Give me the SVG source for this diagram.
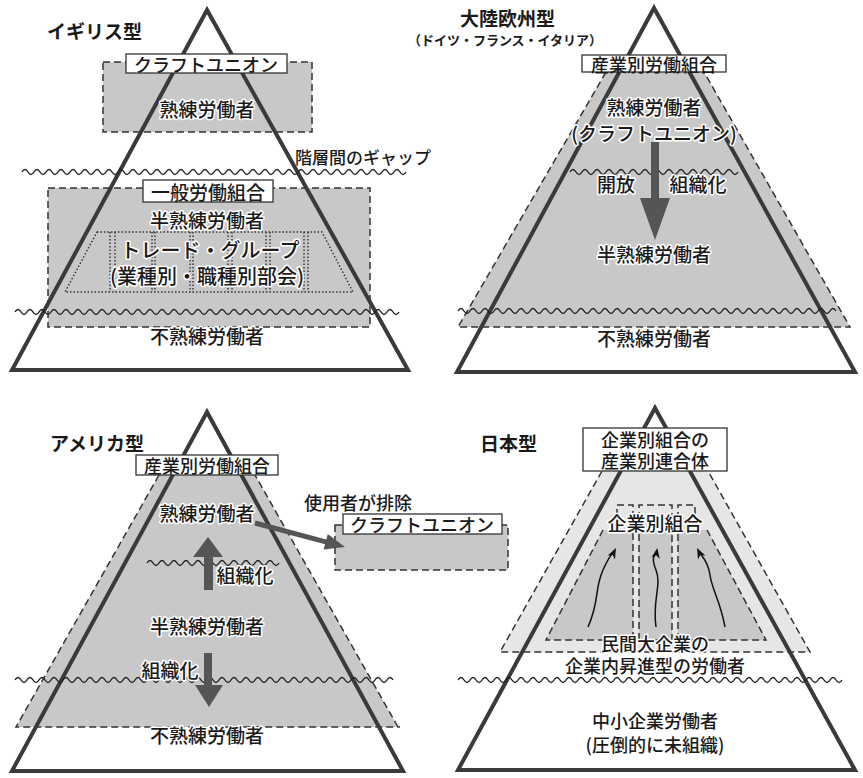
<svg xmlns="http://www.w3.org/2000/svg" width="863" height="778" viewBox="0 0 863 778">
<style>
.t{font-family:"Noto Sans CJK JP","Noto Sans",sans-serif;font-size:19px;font-weight:500;fill:#1a1a1a;text-anchor:middle;dominant-baseline:central}
.h{stroke:#fff;stroke-width:3;stroke-linejoin:round;paint-order:stroke}
.ti{font-weight:bold;text-anchor:start}
.tri{fill:none;stroke:#3a3a3a;stroke-width:4}
.g{fill:#c8c8c8}
.lg{fill:#e6e6e6}
.d{fill:none;stroke:#333;stroke-width:1.5;stroke-dasharray:7 4}
.dot{fill:none;stroke:#333;stroke-width:1.4;stroke-dasharray:1.5 2}
.lb{fill:#fff;stroke:#333;stroke-width:1.3}
.w{fill:none;stroke:#222;stroke-width:1.4}
.ar{fill:#555}
.sq{fill:none;stroke:#111;stroke-width:1.5}
</style>
<defs>
<marker id="ah" viewBox="0 0 10 10" refX="8" refY="5" markerWidth="7" markerHeight="7" orient="auto">
<path d="M0 1 L10 5 L0 9 L3 5 Z" fill="#111"/>
</marker>
</defs>
<rect width="863" height="778" fill="#fff"/>

<!-- UK -->
<g id="uk">
<g id="uk-craft">
<rect class="g" x="103" y="62" width="209" height="70"/>
<rect class="d" x="103" y="62" width="209" height="70"/>
</g>
<g id="uk-general">
<rect class="g" x="48" y="188" width="322" height="139"/>
<rect class="d" x="48" y="188" width="322" height="139"/>
</g>
<g id="uk-trade">
<polygon class="dot" points="97,232 322,232 353,292 65,292"/>
<path class="dot" d="M110 232V292M115 232V292M152 232V292M155 232V292M190 232V292M193 232V292M228 232V292M232 232V292M266 232V292M270 232V292M304 232V292M308 232V292"/>
</g>
<polygon id="uk-pyramid" class="tri" points="207,10 12,370 408,370"/>
<path class="w" d="M22 172q3 -5 6 0t6 0t6 0t6 0t6 0t6 0t6 0t6 0t6 0t6 0t6 0t6 0t6 0t6 0t6 0t6 0t6 0t6 0t6 0t6 0t6 0t6 0t6 0t6 0t6 0t6 0t6 0t6 0t6 0t6 0t6 0t6 0t6 0t6 0t6 0t6 0t6 0t6 0t6 0t6 0t6 0t6 0t6 0t6 0t6 0t6 0t6 0t6 0t6 0t6 0t6 0t6 0t6 0t6 0t6 0t6 0t6 0t6 0t6 0t6 0t6 0t6 0t6 0t6 0"/>
<path class="w" d="M15 312q3 -5 6 0t6 0t6 0t6 0t6 0t6 0t6 0t6 0t6 0t6 0t6 0t6 0t6 0t6 0t6 0t6 0t6 0t6 0t6 0t6 0t6 0t6 0t6 0t6 0t6 0t6 0t6 0t6 0t6 0t6 0t6 0t6 0t6 0t6 0t6 0t6 0t6 0t6 0t6 0t6 0t6 0t6 0t6 0t6 0t6 0t6 0t6 0t6 0t6 0t6 0t6 0t6 0t6 0t6 0t6 0t6 0t6 0t6 0t6 0t6 0t6 0t6 0t6 0t6 0"/>
<text class="t ti" x="47" y="30">イギリス型</text>
<rect class="lb" x="126" y="54" width="161" height="19"/>
<text class="t" x="206" y="64" style="font-size:18px">クラフトユニオン</text>
<text class="t h" x="207" y="108">熟練労働者</text>
<text class="t" x="295" y="156" style="text-anchor:start;font-size:17px">階層間のギャップ</text>
<rect class="lb" x="143" y="180" width="130" height="22"/>
<text class="t" x="208" y="191">一般労働組合</text>
<text class="t h" x="207" y="219">半熟練労働者</text>
<text class="t h" x="210" y="249" style="font-size:20px">トレード・グループ</text>
<text class="t h" x="207" y="275" style="font-size:20px">(業種別・職種別部会)</text>
<text class="t h" x="207" y="335">不熟練労働者</text>
</g>

<!-- Continental -->
<g id="continental">
<g id="ce-industrial">
<polygon class="g" points="606,72 704,72 850,327 458,327"/>
<path class="d" d="M606 72L458 327H850L704 72"/>
</g>
<polygon id="ce-pyramid" class="tri" points="654,8 457,372 855,372"/>
<path class="w" d="M570 172q3 -5 6 0t6 0t6 0t6 0t6 0t6 0t6 0t6 0t6 0t6 0t6 0t6 0t6 0t6 0t6 0t6 0t6 0t6 0t6 0t6 0t6 0t6 0t6 0t6 0t6 0t6 0t6 0t6 0"/>
<path class="w" d="M458 311q3 -5 6 0t6 0t6 0t6 0t6 0t6 0t6 0t6 0t6 0t6 0t6 0t6 0t6 0t6 0t6 0t6 0t6 0t6 0t6 0t6 0t6 0t6 0t6 0t6 0t6 0t6 0t6 0t6 0t6 0t6 0t6 0t6 0t6 0t6 0t6 0t6 0t6 0t6 0t6 0t6 0t6 0t6 0t6 0t6 0t6 0t6 0t6 0t6 0t6 0t6 0t6 0t6 0t6 0t6 0t6 0t6 0t6 0t6 0t6 0t6 0t6 0t6 0t6 0"/>
<text class="t ti" x="460" y="17">大陸欧州型</text>
<text class="t" x="505" y="39" style="font-size:13px;font-weight:bold">（ドイツ・フランス・イタリア）</text>
<rect class="lb" x="582" y="55" width="144" height="17"/>
<text class="t" x="654" y="64" style="font-size:18px">産業別労働組合</text>
<text class="t h" x="654" y="106">熟練労働者</text>
<text class="t h" x="654" y="132">(クラフトユニオン)</text>
<text class="t h" x="616" y="183">開放</text>
<text class="t h" x="698" y="183">組織化</text>
<text class="t h" x="654" y="253">半熟練労働者</text>
<text class="t h" x="654" y="337">不熟練労働者</text>
</g>

<!-- America -->
<g id="america">
<g id="us-industrial">
<polygon class="g" points="159,475 255,475 398,727 16,727"/>
<path class="d" d="M159 475L16 727H400M398 727L255 475"/>
</g>
<g id="us-craft">
<rect class="g" x="335" y="525" width="173" height="45"/>
<rect class="d" x="335" y="525" width="173" height="45"/>
<rect class="lb" x="343" y="514" width="159" height="20"/>
<text class="t" x="422" y="524" style="font-size:18px">クラフトユニオン</text>
</g>
<polygon id="us-pyramid" class="tri" points="207,412 12,771 403,771"/>
<path class="w" d="M147 563q3 -5 6 0t6 0t6 0t6 0t6 0t6 0t6 0t6 0t6 0t6 0t6 0t6 0t6 0t6 0t6 0t6 0t6 0t6 0t6 0t6 0t6 0t6 0"/>
<path class="w" d="M15 680q3 -5 6 0t6 0t6 0t6 0t6 0t6 0t6 0t6 0t6 0t6 0t6 0t6 0t6 0t6 0t6 0t6 0t6 0t6 0t6 0t6 0t6 0t6 0t6 0t6 0t6 0t6 0t6 0t6 0t6 0t6 0t6 0t6 0t6 0t6 0t6 0t6 0t6 0t6 0t6 0t6 0t6 0t6 0t6 0t6 0t6 0t6 0t6 0t6 0t6 0t6 0t6 0t6 0t6 0t6 0t6 0t6 0t6 0t6 0t6 0t6 0t6 0t6 0t6 0"/>
<text class="t ti" x="50" y="442">アメリカ型</text>
<rect class="lb" x="136" y="455" width="142" height="20"/>
<text class="t" x="207" y="465" style="font-size:18px">産業別労働組合</text>
<text class="t h" x="207" y="512">熟練労働者</text>
<text class="t" x="358" y="502" style="font-size:18px">使用者が排除</text>
<text class="t h" x="245" y="574">組織化</text>
<text class="t h" x="207" y="625">半熟練労働者</text>
<text class="t h" x="170" y="669">組織化</text>
<text class="t h" x="207" y="734">不熟練労働者</text>
</g>

<!-- Japan -->
<g id="japan">
<g id="jp-federation">
<polygon class="lg" points="602,471 708,471 810,652 500,652"/>
<path class="d" d="M602 471L500 652H810L708 471"/>
</g>
<g id="jp-enterprise">
<polygon class="g" points="603,530 707,530 766,640 546,640"/>
<rect class="lg" x="633" y="530" width="6" height="110"/>
<rect class="lg" x="672" y="530" width="6" height="110"/>
<path class="d" d="M603 530L546 640H766L707 530"/>
<path class="d" d="M617 527V505H633V640M639 640V505H672V640M678 640V505H695V528"/>
</g>
<polygon id="jp-pyramid" class="tri" points="655,408 458,770 855,770"/>
<path class="w" d="M458 680q3 -5 6 0t6 0t6 0t6 0t6 0t6 0t6 0t6 0t6 0t6 0t6 0t6 0t6 0t6 0t6 0t6 0t6 0t6 0t6 0t6 0t6 0t6 0t6 0t6 0t6 0t6 0t6 0t6 0t6 0t6 0t6 0t6 0t6 0t6 0t6 0t6 0t6 0t6 0t6 0t6 0t6 0t6 0t6 0t6 0t6 0t6 0t6 0t6 0t6 0t6 0t6 0t6 0t6 0t6 0t6 0t6 0t6 0t6 0t6 0t6 0t6 0t6 0t6 0t6 0"/>
<text class="t ti" x="480" y="442">日本型</text>
<rect class="lb" x="583" y="428" width="144" height="43"/>
<text class="t" x="655" y="439" style="font-size:18px">企業別組合の</text>
<text class="t" x="655" y="460" style="font-size:18px">産業別連合体</text>
<text class="t h" x="655" y="522">企業別組合</text>
<text class="t h" x="655" y="643" style="font-size:18px">民間大企業の</text>
<text class="t h" x="655" y="665" style="font-size:18px">企業内昇進型の労働者</text>
<text class="t" x="655" y="720" style="font-size:18px">中小企業労働者</text>
<text class="t" x="655" y="744" style="font-size:18px">(圧倒的に未組織)</text>
</g>

<!-- connectors -->
<g id="connectors">
<path class="ar" d="M651 142H659V198H670L655 240L640 198H651Z"/>
<polygon class="ar" points="255.6,520.6 326.3,539.4 327.8,534.1 345,547 323.6,549.5 325.1,544.2 254.4,525.4"/>
<path class="ar" d="M204 590V557H193L208 537L223 557H213V590Z"/>
<path class="ar" d="M204 653H212V685H223L209 707L195 685H204Z"/>
<path class="sq" marker-end="url(#ah)" d="M588 627C600 600 594 590 603 570S612 556 615 550"/>
<path class="sq" marker-end="url(#ah)" d="M656 627C652 600 662 585 656 570S656 556 657 550"/>
<path class="sq" marker-end="url(#ah)" d="M725 627C720 600 712 590 710 575S701 556 698 550"/>
</g>
</svg>
